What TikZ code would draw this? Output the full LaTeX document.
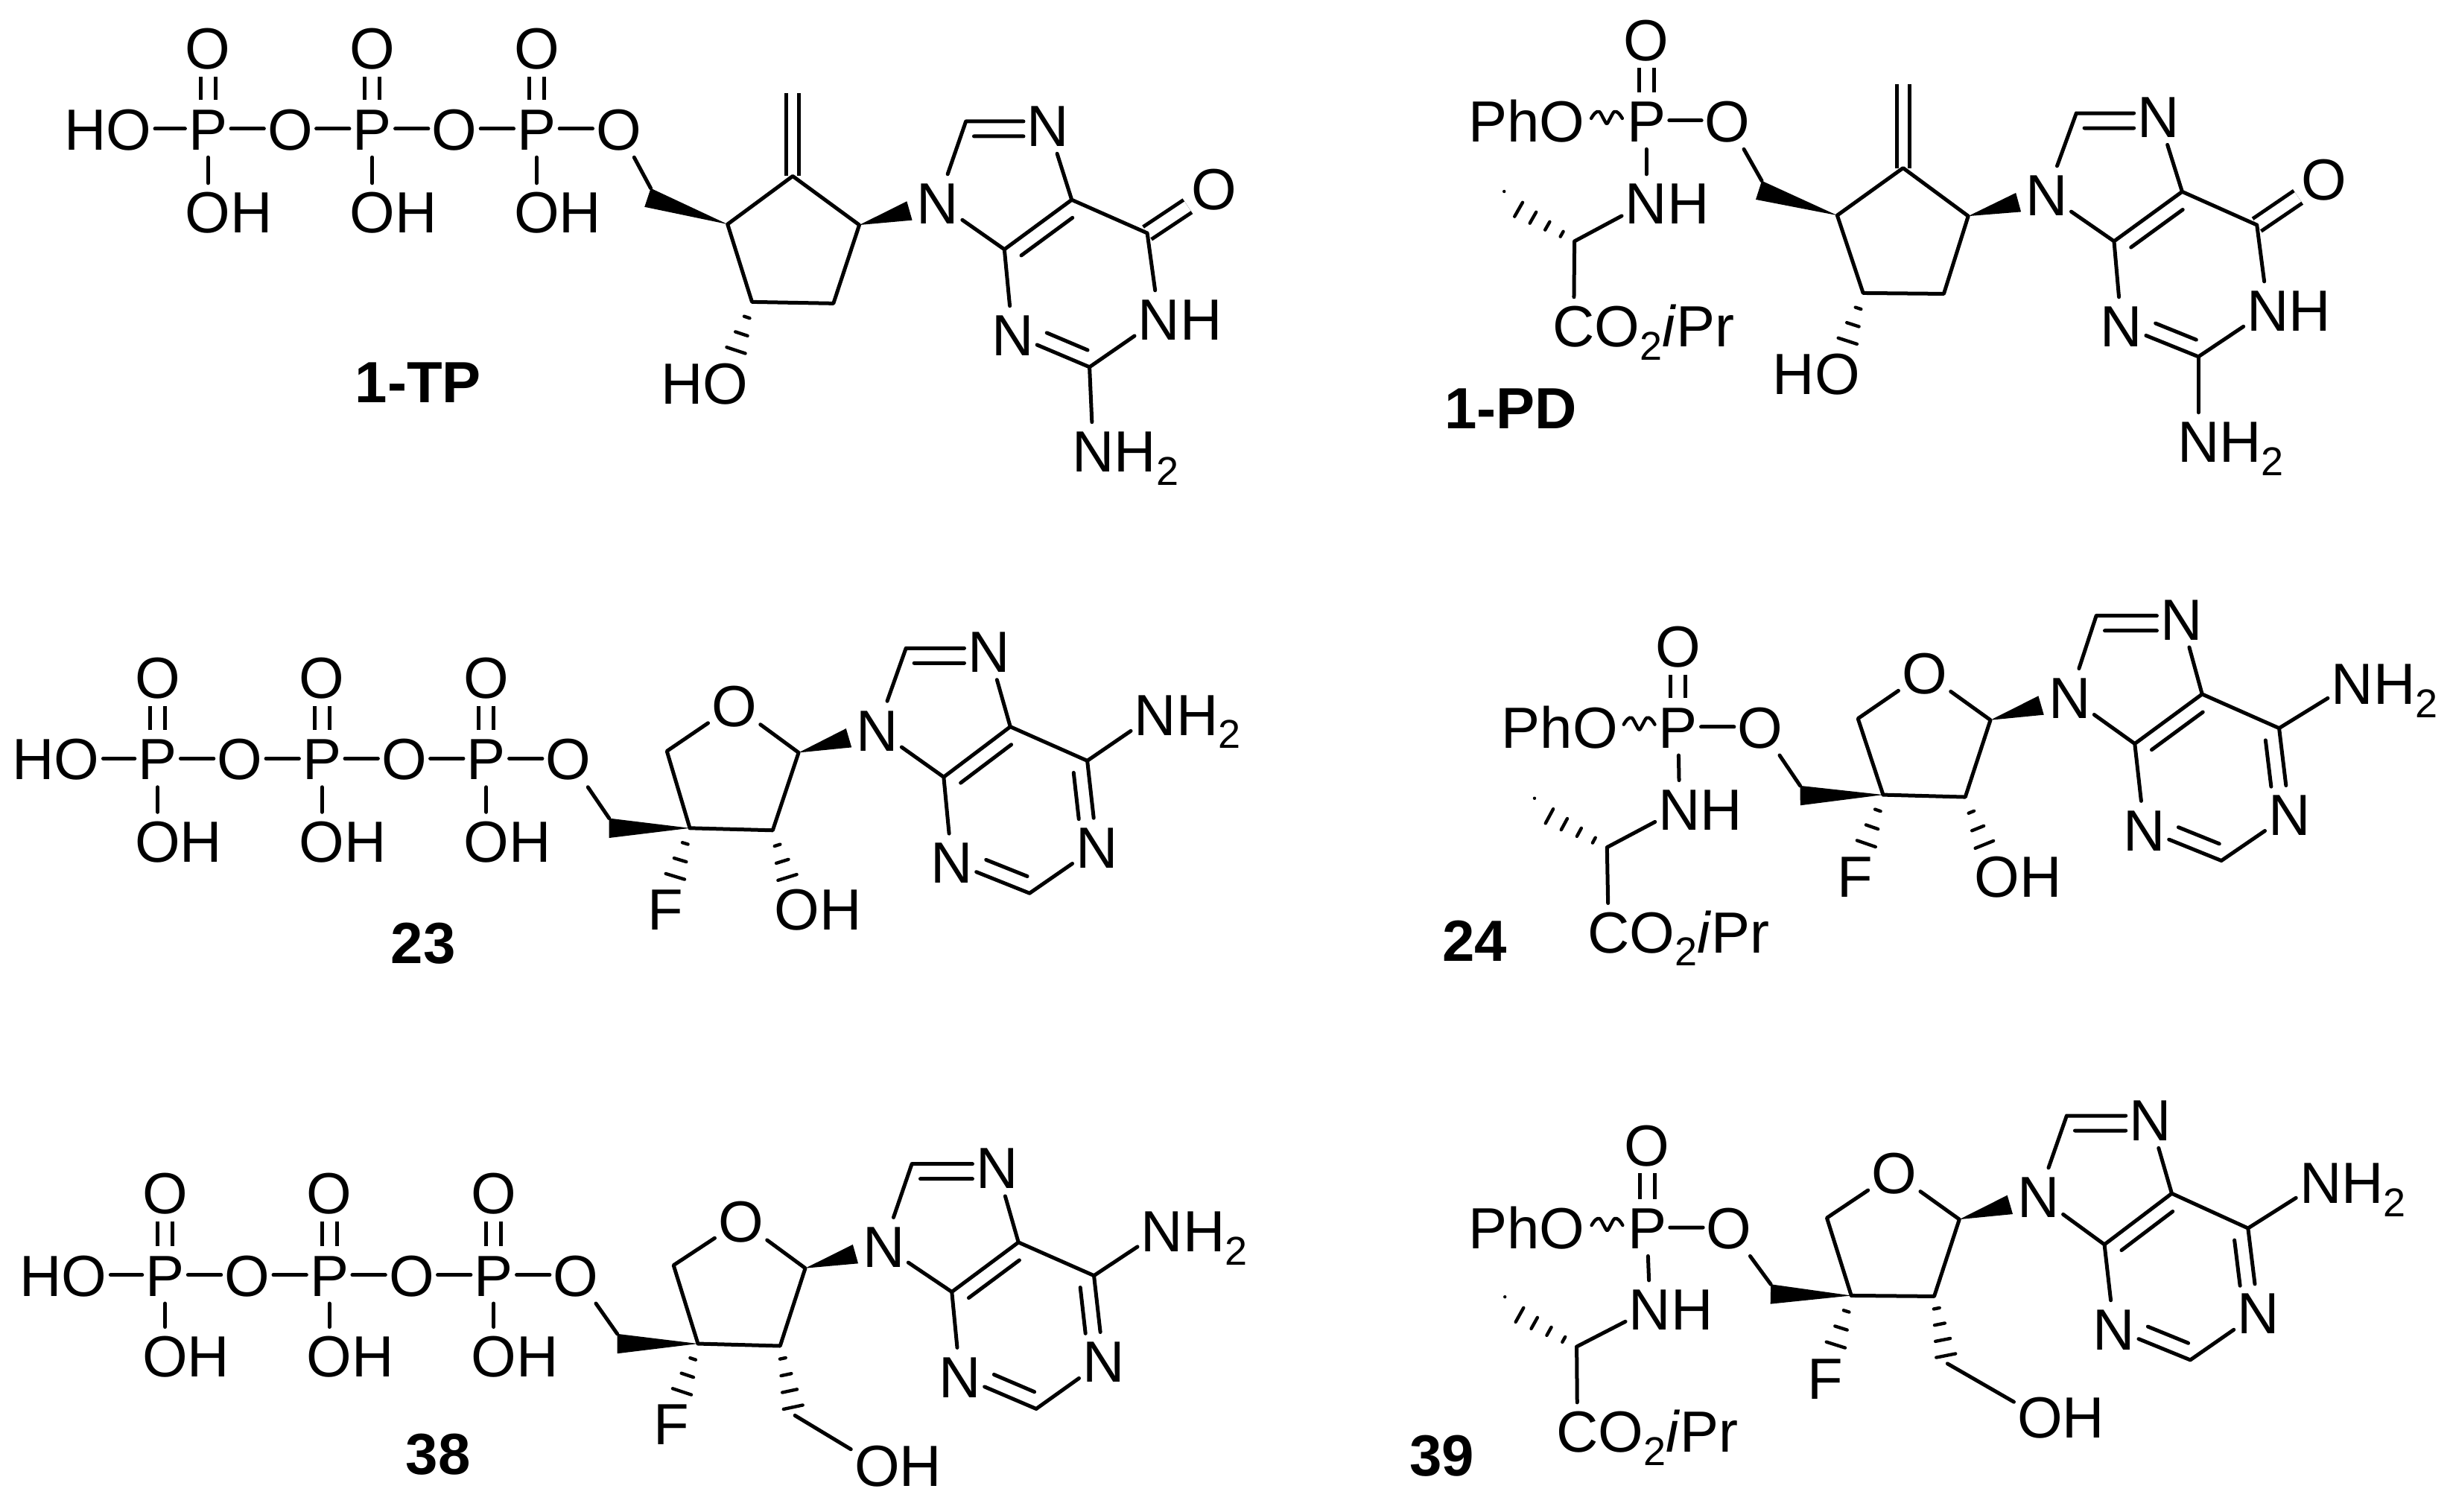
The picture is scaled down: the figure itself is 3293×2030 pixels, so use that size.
\documentclass[tikz,border=0pt]{standalone}
\usepackage{fontspec}
\setmainfont{Liberation Sans}
\usetikzlibrary{calc}
\newcommand\subtwo{\raisebox{-4.4pt}{\fontsize{13.5pt}{14pt}\selectfont 2}}
\newcommand\AT[4]{\node[atom](#1) at (#2,#3){#4};}
\newcommand\AL[5]{\node[atom](#1) at (#2,#3){\phantom{#4}};\node[txt,anchor=base west](#1t) at ([xshift=1.2pt]#1.base west){#5};}
\newcommand\AR[5]{\node[atom](#1) at (#2,#3){\phantom{#4}};\node[txt,anchor=base east](#1t) at ([xshift=-1.2pt]#1.base east){#5};}
\newcommand\CC[3]{\coordinate (#1) at (#2,#3);}
% inner line of a double bond: a, b, start, end
\newcommand\innerb[4]{\draw[bond] ($(#1)!#3!(#2)!-5pt!90:(#2)$) -- ($(#1)!#4!(#2)!-5pt!90:(#2)$);}
% solid wedge: narrow at a, wide end at fraction of a-b; names the upper corner (b u)
\newcommand\wedgeb[3]{\coordinate (wtmp) at ($(#1)!#3!(#2)$);
  \coordinate (#2u) at ($(wtmp)!3.3pt!90:(#1)$);
  \fill (#1) -- (#2u) -- ($(wtmp)!3.3pt!-90:(#1)$) -- cycle;}
% hashed wedge: a, b, n, f0, f1, half width
\newcommand\hashb[6]{\foreach \ii in {1,...,#3}{%
  \pgfmathsetmacro\hp{#4+(#5-#4)*(\ii-1)/(#3-1)}%
  \pgfmathsetmacro\hh{#6*(0.3+0.7*(\ii-1)/(#3-1))}%
  \draw[hashline] ($(#1)!\hp!(#2)!\hh pt!90:(#2)$) -- ($(#1)!\hp!(#2)!\hh pt!-90:(#2)$);}}
% triphosphate: m, xHO, xP, dx, y, yO, yOH
\newcommand\triphos[7]{%
  \AR{#1-ho}{#2}{#5}{O}{HO}
  \foreach \k in {1,2,3}{%
    \pgfmathsetmacro\xp{#3+2*(\k-1)*#4}\pgfmathsetmacro\xo{#3+(2*\k-1)*#4}%
    \AT{#1-p\k}{\xp}{#5}{P}
    \AT{#1-o\k}{\xo}{#5}{O}
    \AT{#1-d\k}{\xp}{#6}{O}
    \AL{#1-h\k}{\xp}{#7}{O}{OH}
    \draw[dbl] (#1-p\k) -- (#1-d\k);
    \draw[bond] (#1-p\k) -- (#1-o\k);
    \draw[bond] (#1-p\k) -- (#1-h\k);
  }%
  \draw[bond] (#1-ho) -- (#1-p1) (#1-o1) -- (#1-p2) (#1-o2) -- (#1-p3);}
% phosphoramidate: m, xO(PhO), xP, xO, y, yOtop, xN, yN
\newcommand\phos[8]{%
  \AR{#1-pho}{#2}{#5}{O}{PhO}
  \AT{#1-p}{#3}{#5}{P}
  \AT{#1-o3}{#4}{#5}{O}
  \AT{#1-d}{#3}{#6}{O}
  \AL{#1-nh}{#7}{#8}{N}{NH}
  \draw[dbl] (#1-p) -- (#1-d);
  \draw[bond] (#1-p) -- (#1-o3) (#1-p) -- (#1-nh);
  \path (#1-pho) -- (#1-p) coordinate[pos=.53] (#1-w);
  \draw[bond,line width=1.1pt,shift={(#1-w)}] plot[smooth,tension=.6] coordinates {(-21,-3) (-16,-10) (-10,-12) (-4,-2) (0,4) (4,-2) (10,-12) (16,-10) (21,-3)};}
% alanine part: m, xCa, yCa, xMe, yMe, xC, yC
\newcommand\amid[7]{%
  \CC{#1-ca}{#2}{#3}\CC{#1-me}{#4}{#5}
  \AL{#1-co}{#6}{#7}{C}{CO\subtwo\textit{i}Pr}
  \draw[bond] (#1-nh) -- (#1-ca) (#1-ca) -- (#1-co);
  \hashb{#1-ca}{#1-me}{5}{.18}{1}{3.3}}
% purine ring bonds
\newcommand\purine[1]{%
  \coordinate (#1-e) at (#1-c8 -| #1-n7.west);
  \draw[bond] (#1-n9) -- (#1-c8) (#1-c8) -- (#1-e) (#1-n7) -- (#1-c5) (#1-c5) -- (#1-c4) (#1-c4) -- (#1-n9)
    (#1-c4) -- (#1-n3) (#1-n3) -- (#1-c2) (#1-c2) -- (#1-n1) (#1-n1) -- (#1-c6) (#1-c6) -- (#1-c5);
  \innerb{#1-c8}{#1-e}{.14}{1}
  \innerb{#1-c4}{#1-c5}{.12}{.88}
  \innerb{#1-c2}{#1-n3}{.1}{.63}}
\newcommand\guanine[1]{%
  \draw[dbl] (#1-c6) -- (#1-oo);
  \purine{#1}
  \draw[bond] (#1-c2) -- (#1-nt);}
\newcommand\adenine[1]{\purine{#1}
  \draw[bond] (#1-c6) -- (#1-nt);
  \innerb{#1-c6}{#1-n1}{.12}{.66}}
\tikzset{
  atom/.style={inner xsep=1.2pt,inner ysep=2.5pt,outer sep=0pt,text height=14.2pt,text depth=0pt,font=\fontsize{19.5pt}{22pt}\selectfont},
  txt/.style={inner sep=0pt,outer sep=0pt,font=\fontsize{19.5pt}{22pt}\selectfont},
  lbl/.style={inner sep=0pt,font=\fontsize{19.5pt}{22pt}\selectfont\bfseries},
  bond/.style={line width=1.25pt,line cap=round,line join=round},
  dbl/.style={line width=1.25pt,double,double distance=3.75pt},
  hashline/.style={line width=1.1pt,line cap=round},
  colL/.style={x=0.2484pt,y=-0.2484pt},
  colR/.style={x=0.2484pt,y=-0.2484pt,xshift=3.04pt}
}
\begin{document}
\begin{tikzpicture}[x=0.25pt,y=-0.25pt]
\useasboundingbox (0,0) rectangle (3293,2030);
%% ---------- 1-TP
\begin{scope}[colL]
\triphos{a}{174}{281}{111}{174}{65}{286}
\CC{a-ch}{875}{267}\CC{a-c4p}{983}{303}\CC{a-c}{1071}{238}\CC{a-c1p}{1161}{304}\CC{a-c2p}{1126}{410}\CC{a-c3p}{1016}{408}\CC{a-ex}{1071}{126}
\AR{a-oh}{980}{517}{O}{HO}
\AT{a-n9}{1267}{274}{N}\CC{a-c8}{1305}{164}\AT{a-n7}{1416}{169}{N}
\CC{a-c4}{1357}{337}\CC{a-c5}{1448}{270}\CC{a-c6}{1550}{315}
\AT{a-oo}{1640}{255}{O}\AT{a-n3}{1368}{452}{N}\AL{a-n1}{1566}{431}{N}{NH}\CC{a-c2}{1472}{496}\AL{a-nt}{1477}{609}{N}{NH\subtwo}
\draw[dbl,double distance=3pt] (a-c) -- (a-ex);
\draw[bond] (a-c4p) -- (a-c) -- (a-c1p) -- (a-c2p) -- (a-c3p) -- (a-c4p);
\wedgeb{a-c4p}{a-ch}{1}
\draw[bond] (a-o3) -- (a-chu);
\wedgeb{a-c1p}{a-n9}{.64}
\hashb{a-c3p}{a-oh}{3}{.19}{.6}{3.3}
\guanine{a}
\node[lbl](a-label) at (565,517) {1-TP};
\end{scope}
%% ---------- 1-PD
\begin{scope}[colR]
\phos{b}{2098}{2212}{2322}{163}{53}{2212}{274}
\amid{b}{2115}{326}{2020}{272}{2114}{440}
\CC{b-ch}{2364}{257}\CC{b-c4p}{2470}{291}\CC{b-c}{2559}{227}\CC{b-c1p}{2647}{292}\CC{b-c2p}{2614}{397}\CC{b-c3p}{2505}{396}\CC{b-ex}{2559}{114}
\AR{b-oh}{2470}{504}{O}{HO}
\AT{b-n9}{2753}{263}{N}\CC{b-c8}{2793}{153}\AT{b-n7}{2904}{157}{N}
\CC{b-c4}{2844}{326}\CC{b-c5}{2936}{259}\CC{b-c6}{3037}{304}
\AT{b-oo}{3128}{242}{O}\AT{b-n3}{2854}{440}{N}\AL{b-n1}{3052}{419}{N}{NH}\CC{b-c2}{2958}{482}\AL{b-nt}{2958}{596}{N}{NH\subtwo}
\draw[dbl,double distance=3pt] (b-c) -- (b-ex);
\draw[bond] (b-c4p) -- (b-c) -- (b-c1p) -- (b-c2p) -- (b-c3p) -- (b-c4p);
\wedgeb{b-c4p}{b-ch}{1}
\draw[bond] (b-o3) -- (b-chu);
\wedgeb{b-c1p}{b-n9}{.64}
\hashb{b-c3p}{b-oh}{3}{.19}{.6}{3.3}
\guanine{b}
\node[lbl](b-label) at (2029,552) {1-PD};
\end{scope}
%% ---------- 23
\begin{scope}[colL,yshift=-1.235pt]
\triphos{c}{104}{213}{111}{1020}{910}{1131}
\CC{c-ch}{823}{1114}\CC{c-c4p}{932}{1114}\CC{c-c3p}{1044}{1117}\CC{c-c1p}{1079}{1012}\AT{c-o4}{992}{948}{O}\CC{c-c5p}{901}{1010}
\AT{c-f}{899}{1223}{F}\AL{c-oh}{1077}{1223}{O}{OH}
\AT{c-n9}{1185}{981}{N}\CC{c-c8}{1224}{871}\AT{c-n7}{1336}{875}{N}
\CC{c-c4}{1275}{1045}\CC{c-c5}{1365}{977}\CC{c-c6}{1469}{1023}
\AL{c-nt}{1561}{960}{N}{NH\subtwo}\AT{c-n1}{1482}{1139}{N}\CC{c-c2}{1391}{1202}\AT{c-n3}{1286}{1160}{N}
\draw[bond] (c-c4p) -- (c-c3p) -- (c-c1p) -- (c-o4) -- (c-c5p) -- (c-c4p);
\wedgeb{c-c4p}{c-ch}{1}
\draw[bond] (c-o3) -- (c-chu);
\wedgeb{c-c1p}{c-n9}{.64}
\hashb{c-c4p}{c-f}{3}{.19}{.6}{3.3}
\hashb{c-c3p}{c-oh}{3}{.19}{.6}{3.3}
\adenine{c}
\node[lbl](c-label) at (572,1270) {23};
\end{scope}
%% ---------- 24
\begin{scope}[colR,yshift=-1.235pt]
\phos{d}{2143}{2255}{2366}{977}{868}{2257}{1088}
\amid{d}{2159}{1140}{2061}{1087}{2161}{1254}
\CC{d-ch}{2420}{1070}\CC{d-c4p}{2532}{1069}\CC{d-c3p}{2643}{1072}\CC{d-c1p}{2677}{968}\AT{d-o4}{2588}{904}{O}\CC{d-c5p}{2498}{966}
\AT{d-f}{2494}{1179}{F}\AL{d-oh}{2686}{1179}{O}{OH}
\AT{d-n9}{2784}{937}{N}\CC{d-c8}{2820}{827}\AT{d-n7}{2935}{831}{N}
\CC{d-c4}{2872}{1000}\CC{d-c5}{2963}{933}\CC{d-c6}{3067}{979}
\AL{d-nt}{3166}{918}{N}{NH\subtwo}\AT{d-n1}{3081}{1095}{N}\CC{d-c2}{2989}{1158}\AT{d-n3}{2885}{1116}{N}
\draw[bond] (d-c4p) -- (d-c3p) -- (d-c1p) -- (d-o4) -- (d-c5p) -- (d-c4p);
\wedgeb{d-c4p}{d-ch}{1}
\draw[bond] (d-o3) -- (d-chu);
\wedgeb{d-c1p}{d-n9}{.64}
\hashb{d-c4p}{d-f}{3}{.19}{.6}{3.3}
\hashb{d-c3p}{d-oh}{3}{.19}{.6}{3.3}
\adenine{d}
\node[lbl](d-label) at (1980,1266) {24};
\end{scope}
%% ---------- 38
\begin{scope}[colL,yshift=-2.4pt]
\triphos{e}{114}{223}{111}{1713}{1602}{1822}
\CC{e-ch}{834}{1806}\CC{e-c4p}{943}{1806}\CC{e-c3p}{1054}{1809}\CC{e-c1p}{1088}{1704}\AT{e-o4}{1001}{1640}{O}\CC{e-c5p}{910}{1700}
\AT{e-f}{907}{1914}{F}\CC{e-cm}{1074}{1903}\AL{e-oh}{1185}{1970}{O}{OH}
\AT{e-n9}{1194}{1674}{N}\CC{e-c8}{1232}{1563}\AT{e-n7}{1347}{1568}{N}
\CC{e-c4}{1286}{1736}\CC{e-c5}{1376}{1669}\CC{e-c6}{1478}{1714}
\AL{e-nt}{1570}{1653}{N}{NH\subtwo}\AT{e-n1}{1491}{1829}{N}\CC{e-c2}{1400}{1894}\AT{e-n3}{1297}{1850}{N}
\draw[bond] (e-c4p) -- (e-c3p) -- (e-c1p) -- (e-o4) -- (e-c5p) -- (e-c4p);
\wedgeb{e-c4p}{e-ch}{1}
\draw[bond] (e-o3) -- (e-chu);
\wedgeb{e-c1p}{e-n9}{.64}
\hashb{e-c4p}{e-f}{3}{.19}{.6}{3.3}
\hashb{e-c3p}{e-cm}{4}{.18}{.88}{3.3}
\draw[bond] (e-cm) -- (e-oh);
\adenine{e}
\node[lbl](e-label) at (592,1956) {38};
\end{scope}
%% ---------- 39
\begin{scope}[colR,yshift=-2.4pt]
\phos{f}{2098}{2213}{2324}{1649}{1537}{2217}{1759}
\amid{f}{2118}{1810}{2021}{1756}{2119}{1924}
\CC{f-ch}{2380}{1739}\CC{f-c4p}{2489}{1741}\CC{f-c3p}{2601}{1742}\CC{f-c1p}{2635}{1638}\AT{f-o4}{2547}{1575}{O}\CC{f-c5p}{2456}{1636}
\AT{f-f}{2454}{1852}{F}\CC{f-cm}{2619}{1833}\AL{f-oh}{2744}{1905}{O}{OH}
\AT{f-n9}{2742}{1607}{N}\CC{f-c8}{2780}{1498}\AT{f-n7}{2893}{1503}{N}
\CC{f-c4}{2831}{1672}\CC{f-c5}{2922}{1603}\CC{f-c6}{3025}{1650}
\AL{f-nt}{3123}{1588}{N}{NH\subtwo}\AT{f-n1}{3039}{1764}{N}\CC{f-c2}{2947}{1828}\AT{f-n3}{2844}{1786}{N}
\draw[bond] (f-c4p) -- (f-c3p) -- (f-c1p) -- (f-o4) -- (f-c5p) -- (f-c4p);
\wedgeb{f-c4p}{f-ch}{1}
\draw[bond] (f-o3) -- (f-chu);
\wedgeb{f-c1p}{f-n9}{.64}
\hashb{f-c4p}{f-f}{3}{.19}{.6}{3.3}
\hashb{f-c3p}{f-cm}{4}{.18}{.88}{3.3}
\draw[bond] (f-cm) -- (f-oh);
\adenine{f}
\node[lbl](f-label) at (1936,1958) {39};
\end{scope}
\end{tikzpicture}
\end{document}
